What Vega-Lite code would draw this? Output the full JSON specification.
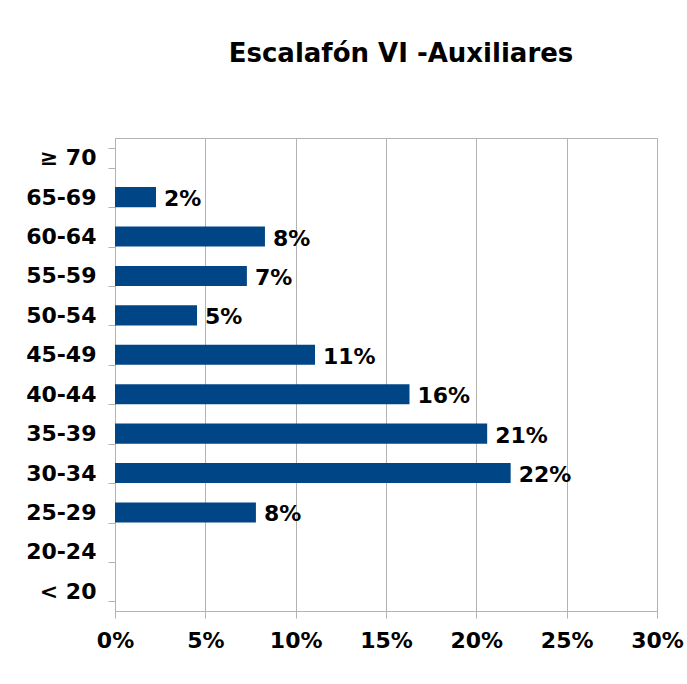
{
  "$schema": "https://vega.github.io/schema/vega-lite/v6.json",
  "width": 542,
  "height": 473,
  "autosize": {"type": "none"},
  "padding": {"left": 115, "top": 138, "right": 30, "bottom": 73},
  "background": "white",
  "title": {
    "text": "Escalafón VI -Auxiliares",
    "font": "DejaVu Sans",
    "fontSize": 26,
    "fontWeight": "bold",
    "color": "black",
    "anchor": "middle",
    "dx": 15,
    "offset": 60
  },
  "data": {
    "values": [
      {"edad": "≥ 70", "pct": null},
      {"edad": "65-69", "pct": 0.0227},
      {"edad": "60-64", "pct": 0.083},
      {"edad": "55-59", "pct": 0.073},
      {"edad": "50-54", "pct": 0.0454},
      {"edad": "45-49", "pct": 0.1107},
      {"edad": "40-44", "pct": 0.163},
      {"edad": "35-39", "pct": 0.206},
      {"edad": "30-34", "pct": 0.219},
      {"edad": "25-29", "pct": 0.078},
      {"edad": "20-24", "pct": null},
      {"edad": "< 20", "pct": null}
    ]
  },
  "encoding": {
    "y": {
      "field": "edad",
      "type": "nominal",
      "sort": null,
      "scale": {
        "domain": ["≥ 70", "65-69", "60-64", "55-59", "50-54", "45-49", "40-44", "35-39", "30-34", "25-29", "20-24", "< 20"],
        "paddingInner": 0.49,
        "paddingOuter": 0.245
      },
      "axis": {
        "title": null,
        "labelFont": "DejaVu Sans",
        "labelFontSize": 22,
        "labelFontWeight": "bold",
        "labelColor": "black",
        "labelPadding": 12,
        "tickBand": "extent",
        "tickSize": 7,
        "tickColor": "#b3b3b3",
        "domainColor": "#b3b3b3",
        "grid": false
      }
    },
    "x": {
      "field": "pct",
      "type": "quantitative",
      "scale": {"domain": [0, 0.3], "nice": false},
      "axis": {
        "title": null,
        "format": ".0%",
        "values": [0, 0.05, 0.1, 0.15, 0.2, 0.25, 0.3],
        "labelFont": "DejaVu Sans",
        "labelFontSize": 22,
        "labelFontWeight": "bold",
        "labelColor": "black",
        "labelPadding": 12,
        "tickSize": 7,
        "tickColor": "#b3b3b3",
        "domainColor": "#b3b3b3",
        "gridColor": "#b3b3b3",
        "gridOpacity": 1,
        "labelFlush": false
      }
    }
  },
  "layer": [
    {"mark": {"type": "bar", "color": "#004586"}},
    {
      "mark": {
        "type": "text",
        "align": "left",
        "baseline": "middle",
        "dx": 8,
        "dy": 2,
        "font": "DejaVu Sans",
        "fontSize": 22,
        "fontWeight": "bold",
        "color": "black"
      },
      "encoding": {"text": {"field": "pct", "type": "quantitative", "format": ".0%"}}
    }
  ],
  "config": {
    "view": {"stroke": "#b3b3b3"}
  }
}
